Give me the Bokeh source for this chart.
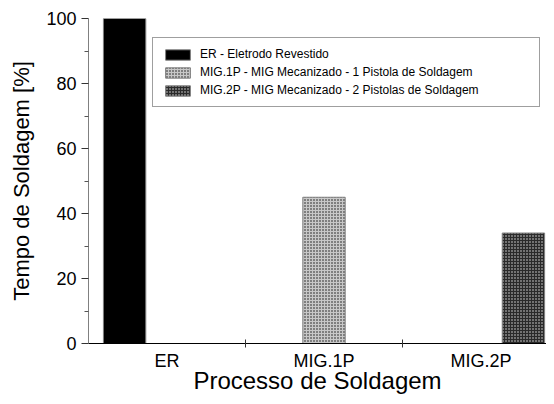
from bokeh.plotting import figure
from bokeh.models import Range1d, FixedTicker, Legend, LegendItem, ColumnDataSource
from bokeh.transform import dodge
from bokeh.embed import file_html
from bokeh.resources import INLINE

categories = ["ER", "MIG.1P", "MIG.2P"]
series_names = [
    "ER - Eletrodo Revestido",
    "MIG.1P - MIG Mecanizado - 1 Pistola de Soldagem",
    "MIG.2P - MIG Mecanizado - 2 Pistolas de Soldagem",
]
values = [100, 45, 34]
y_ticks = [0, 20, 40, 60, 80, 100]
y_minor = [10, 30, 50, 70, 90]

FONT = "Liberation Sans"

p = figure(width=546, height=396, output_backend="svg", toolbar_location=None,
           x_range=Range1d(0.5, 3.417), y_range=Range1d(0, 100),
           min_border_left=88, min_border_right=0, min_border_top=18, min_border_bottom=53)
p.outline_line_color = None
p.xgrid.visible = False
p.ygrid.visible = False

xpos = [i + 1 for i in range(len(categories))]
offsets = [-0.27, 0.0, 0.27]
styles = [
    dict(fill_color="black"),
    dict(fill_color="#c8c8c8", hatch_pattern="dot", hatch_color="#111111", hatch_scale=3, hatch_weight=1),
    dict(fill_color="#2a2a2a", hatch_pattern="dot", hatch_color="#e0e0e0", hatch_scale=3, hatch_weight=1),
]
renderers = []
for i, (name, off, st) in enumerate(zip(series_names, offsets, styles)):
    src = ColumnDataSource(dict(x=[xpos[i]], top=[values[i]]))
    r = p.vbar(x=dodge("x", off, range=p.x_range), top="top", width=0.27, source=src,
               line_color="#808080", line_width=1, **st)
    renderers.append(r)

legend = Legend(items=[LegendItem(label=n, renderers=[r]) for n, r in zip(series_names, renderers)],
                location=(64, 236), padding=9, spacing=4, glyph_width=31, glyph_height=13,
                label_standoff=7, label_width=330, label_text_font=FONT, label_text_font_size="12px",
                label_text_color="black", label_height=13,
                border_line_color="#404040", border_line_width=1, margin=0,
                background_fill_alpha=1)
p.add_layout(legend)

# y axis
ya = p.yaxis[0]
ya.ticker = FixedTicker(ticks=y_ticks, minor_ticks=y_minor)
ya.axis_label = "Tempo de Soldagem [%]"
ya.axis_label_text_font = FONT
ya.axis_label_text_font_size = "22px"
ya.axis_label_text_font_style = "normal"
ya.axis_label_text_color = "black"
ya.axis_label_standoff = 9
ya.major_label_text_font = FONT
ya.major_label_text_font_size = "18px"
ya.major_label_standoff = 5
ya.major_tick_in = 0
ya.major_tick_out = 7
ya.minor_tick_in = 0
ya.minor_tick_out = 4
ya.axis_line_color = "#808080"
ya.major_tick_line_color = "#333333"
ya.minor_tick_line_color = "#555555"
ya.major_label_text_color = "black"

# x axis
xa = p.xaxis[0]
xa.ticker = FixedTicker(ticks=xpos, minor_ticks=[1.5, 2.5])
xa.major_label_overrides = {x: c for x, c in zip(xpos, categories)}
xa.axis_label = "Processo de Soldagem"
xa.axis_label_text_font = FONT
xa.axis_label_text_font_size = "24px"
xa.axis_label_text_font_style = "normal"
xa.axis_label_text_color = "black"
xa.axis_label_standoff = -7
xa.major_label_text_font = FONT
xa.major_label_text_font_size = "18px"
xa.major_label_standoff = 3
xa.major_tick_in = 0
xa.major_tick_out = 0
xa.minor_tick_in = 4
xa.minor_tick_out = 4
xa.axis_line_color = "black"
xa.minor_tick_line_color = "#333333"
xa.major_label_text_color = "black"

open("out.html", "w").write(file_html(p, INLINE))
